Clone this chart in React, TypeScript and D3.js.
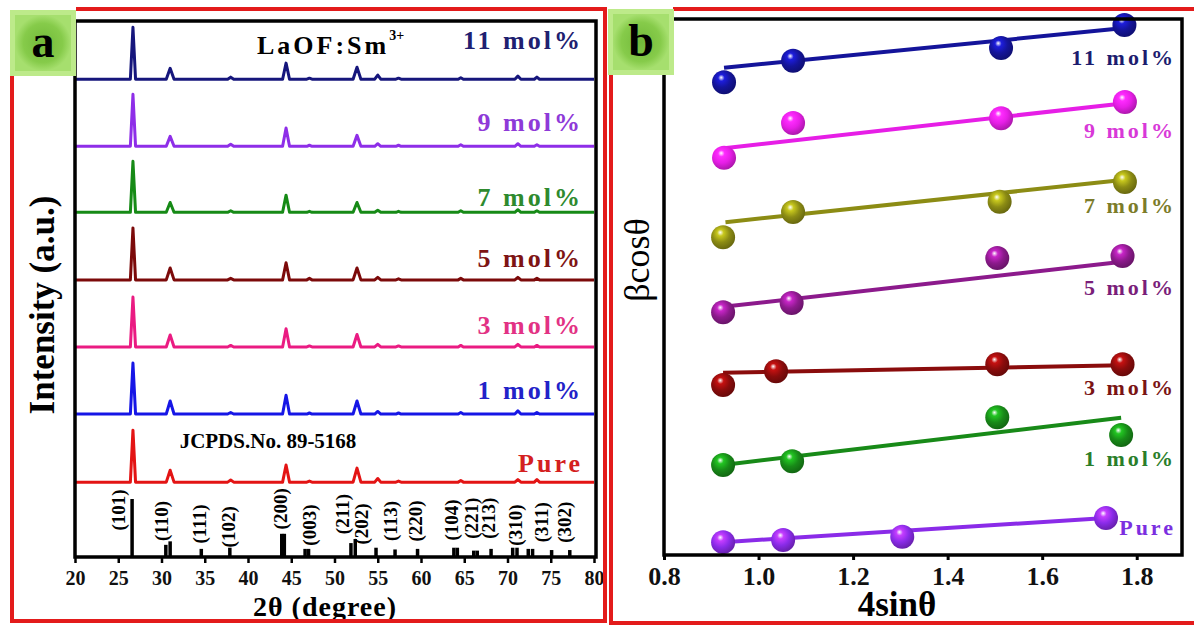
import React, { useEffect, useRef } from "react";
import * as d3 from "d3";

// ---------- panel a : stacked XRD patterns ----------
const sampleNames = ["Pure", "1 mol%", "3 mol%", "5 mol%", "7 mol%", "9 mol%", "11 mol%"];
const traceColors = ["#e31414", "#1616e6", "#ea1b82", "#7c0a0a", "#168a16", "#8e2ee8", "#16167c"];
const labelColorsA = ["#d42020", "#2222c8", "#e23284", "#7e1414", "#2e8a2e", "#8e3ad8", "#202070"];
const traceOffsets = [144, 275, 404, 533, 663, 790, 919];
const labelLevelsA = [181, 321, 446, 575, 692, 837, 994];

const peakPos = [26.7, 31.0, 38.0, 44.4, 47.1, 52.6, 55.0, 57.4, 64.6, 71.2, 73.4];
const peakHalfWidth = [0.3, 0.45, 0.35, 0.4, 0.3, 0.45, 0.35, 0.3, 0.3, 0.35, 0.3];
const intPure = [100, 23, 4, 33, 2, 27, 7, 2, 3, 5, 5];
const int1 = [98, 25, 3, 36, 2, 25, 5, 2, 3, 6, 3];
const int3 = [96, 23, 3, 35, 2, 24, 5, 2, 3, 5, 3];
const int5 = [100, 23, 3, 33, 3, 23, 5, 2, 3, 5, 3];
const int7 = [98, 19, 3, 33, 2, 19, 4, 2, 3, 5, 3];
const int9 = [100, 19, 4, 35, 2, 21, 5, 2, 3, 5, 3];
const int11 = [100, 21, 4, 31, 2, 23, 8, 2, 3, 6, 4];
const intensities = [intPure, int1, int3, int5, int7, int9, int11];

// JCPDS 89-5168 reference lines
const jcpdsPos = [26.6, 30.5, 31.0, 34.6, 37.9, 43.9, 44.2, 46.6, 47.0, 51.9, 52.4, 54.8, 57.0, 59.6,
  63.8, 64.2, 66.1, 66.5, 68.1, 70.6, 71.1, 72.4, 72.9, 75.1, 77.2];
const jcpdsInt = [100, 21, 27, 14, 16, 40, 40, 14, 14, 24, 31, 16, 13, 14, 16, 16, 11, 11, 14, 16, 16,
  14, 14, 12, 12];
const hklLabels = ["(101)", "(110)", "(111)", "(102)", "(200)", "(003)", "(211)", "(202)", "(113)",
  "(220)", "(104)", "(221)", "(213)", "(310)", "(311)", "(302)"];
const hklPos = [24.96, 30.0, 34.4, 37.7, 43.7, 47.1, 50.9, 53.1, 56.4, 59.4, 63.5, 65.8, 67.8, 70.9, 73.9, 76.6];
const hklLevel = [81, 62, 57, 52, 83, 55, 74, 57, 62, 62, 64, 67, 67, 55, 60, 60];
const xTicksA = d3.range(20, 81, 5);

// ---------- panel b : Williamson-Hall plots ----------
const seriesNames = ["Pure", "1 mol%", "3 mol%", "5 mol%", "7 mol%", "9 mol%", "11 mol%"];
const ballColors = ["#8a2be8", "#188a18", "#8a0c0c", "#8c1a8c", "#8c8c14", "#e61ee6", "#14149a"];
const labelColorsB = ["#7b2fe0", "#2a7e2a", "#7a1414", "#7a1e7a", "#7c7c2a", "#d838d8", "#1c1c6e"];
const xPure = [0.925, 1.052, 1.304, 1.735];
const yPure = [0.24, 0.28, 0.34, 0.69];
const x1 = [0.925, 1.071, 1.505, 1.767];
const y1 = [1.68, 1.75, 2.57, 2.24];
const x3 = [0.925, 1.037, 1.505, 1.77];
const y3 = [3.17, 3.43, 3.56, 3.56];
const x5 = [0.925, 1.07, 1.505, 1.77];
const y5 = [4.53, 4.7, 5.54, 5.58];
const x7 = [0.925, 1.073, 1.51, 1.775];
const y7 = [5.93, 6.4, 6.59, 6.96];
const x9 = [0.927, 1.073, 1.513, 1.775];
const y9 = [7.41, 8.06, 8.15, 8.45];
const x11 = [0.927, 1.073, 1.513, 1.774];
const y11 = [8.82, 9.22, 9.46, 9.89];
const xsB = [xPure, x1, x3, x5, x7, x9, x11];
const ysB = [yPure, y1, y3, y5, y7, y9, y11];
// fitted lines: [x0, y0, x1, y1]
const fitsB = [
  [0.925, 0.24, 1.735, 0.69],
  [0.925, 1.68, 1.767, 2.56],
  [0.925, 3.4, 1.77, 3.54],
  [0.925, 4.63, 1.77, 5.47],
  [0.93, 6.21, 1.775, 7.0],
  [0.927, 7.59, 1.775, 8.43],
  [0.927, 9.09, 1.774, 9.83],
];
const labelLevelsB = [0.52, 1.81, 3.13, 5.0, 6.53, 7.93, 9.29];
const xTicksB = [0.8, 1.0, 1.2, 1.4, 1.6, 1.8];

const serif = "'Liberation Serif', 'Times New Roman', serif";
const red = "#e31b1b";

export default function App() {
  const ref = useRef<SVGSVGElement>(null);

  useEffect(() => {
    const svg = d3.select(ref.current);
    svg.selectAll("*").remove();
    const defs = svg.append("defs");

    // green label boxes gradient
    const gg = defs.append("radialGradient").attr("id", "greenIn");
    gg.append("stop").attr("offset", "0%").attr("stop-color", "#72b93a");
    gg.append("stop").attr("offset", "70%").attr("stop-color", "#86cb4a");
    gg.append("stop").attr("offset", "100%").attr("stop-color", "#a6df6e");

    ballColors.forEach((c, i) => {
      const g = defs.append("radialGradient").attr("id", `ball${i}`)
        .attr("cx", "42%").attr("cy", "38%").attr("r", "62%").attr("fx", "38%").attr("fy", "30%");
      g.append("stop").attr("offset", "0%").attr("stop-color", "#ffffff");
      g.append("stop").attr("offset", "22%").attr("stop-color", d3.color(c)!.brighter(1).formatHex());
      g.append("stop").attr("offset", "60%").attr("stop-color", c);
      g.append("stop").attr("offset", "100%").attr("stop-color", d3.color(c)!.darker(0.8).formatHex());
    });

    // ================= panel a =================
    const xa = d3.scaleLinear().domain([20, 80]).range([75, 594]);
    const ya = d3.scaleLinear().domain([0, 1031]).range([557, 21]);
    const yj = d3.scaleLinear().domain([0, 100]).range([557, 499]);
    const a = svg.append("g");

    intensities.forEach((ints, i) => {
      const pts: [number, number][] = [[20, 0]];
      peakPos.forEach((p, k) => {
        const w = peakHalfWidth[k];
        pts.push([p - w, 0], [p, ints[k]], [p + w, 0]);
      });
      pts.push([80, 0]);
      const line = d3.line<[number, number]>()
        .x((d) => xa(d[0]))
        .y((d) => ya(d[1] + traceOffsets[i]));
      a.append("path").attr("d", line(pts)!).attr("fill", "none")
        .attr("stroke", traceColors[i]).attr("stroke-width", 3).attr("stroke-linejoin", "round");
      a.append("text").attr("x", 583).attr("y", ya(labelLevelsA[i]))
        .attr("dy", "0.35em").attr("text-anchor", "end")
        .style("font-family", serif).style("font-weight", "bold").style("font-size", "26px")
        .style("letter-spacing", "3px").attr("fill", labelColorsA[i])
        .text(sampleNames[i]);
    });

    jcpdsPos.forEach((p, k) => {
      a.append("line").attr("x1", xa(p)).attr("x2", xa(p))
        .attr("y1", yj(0)).attr("y2", yj(jcpdsInt[k]))
        .attr("stroke", "#000").attr("stroke-width", 3.5);
    });
    hklLabels.forEach((t, k) => {
      a.append("text")
        .attr("transform", `translate(${xa(hklPos[k])},${yj(hklLevel[k])}) rotate(-90)`)
        .attr("text-anchor", "middle").attr("dy", "0.35em")
        .style("font-family", serif).style("font-weight", "bold").style("font-size", "19px")
        .text(t);
    });

    a.append("text").attr("x", 268).attr("y", 441).attr("dy", "0.35em").attr("text-anchor", "middle")
      .style("font-family", serif).style("font-weight", "bold").style("font-size", "21px")
      .text("JCPDS.No. 89-5168");
    const t = a.append("text").attr("x", 257).attr("y", 54)
      .style("font-family", serif).style("font-weight", "bold").style("font-size", "26px")
      .style("letter-spacing", "3px");
    t.append("tspan").text("LaOF:Sm");
    t.append("tspan").attr("dy", -14).style("font-size", "14px").style("letter-spacing", "0px").text("3+");

    const axA = d3.axisBottom(xa).tickValues(xTicksA).tickSize(6).tickSizeOuter(0).tickPadding(8);
    const gA = a.append("g").attr("transform", "translate(0,557)").call(axA);
    gA.select(".domain").remove();
    gA.selectAll(".tick line").attr("stroke-width", 2.5);
    gA.selectAll(".tick text").style("font-family", serif).style("font-weight", "bold")
      .style("font-size", "20px").attr("fill", "#111");

    a.append("rect").attr("x", 75).attr("y", 21).attr("width", 521).attr("height", 536)
      .attr("fill", "none").attr("stroke", "#000").attr("stroke-width", 3.5);

    a.append("text").attr("transform", "translate(42,305) rotate(-90)").attr("text-anchor", "middle")
      .attr("dy", "0.35em").style("font-family", serif).style("font-weight", "bold")
      .style("font-size", "35px").text("Intensity (a.u.)");
    a.append("text").attr("x", 325).attr("y", 616).attr("text-anchor", "middle")
      .style("font-family", serif).style("font-weight", "bold").style("font-size", "28px")
      .style("letter-spacing", "1px").text("2θ (degree)");

    // ================= panel b =================
    const xb = d3.scaleLinear().domain([0.8, 1.9]).range([664, 1184]);
    const yb = d3.scaleLinear().domain([0, 10]).range([555, 19]);
    const b = svg.append("g");

    fitsB.forEach((f, i) => {
      b.append("line").attr("x1", xb(f[0])).attr("y1", yb(f[1])).attr("x2", xb(f[2])).attr("y2", yb(f[3]))
        .attr("stroke", ballColors[i]).attr("stroke-width", 4);
    });
    xsB.forEach((xs, i) => {
      b.selectAll(null).data(xs).enter().append("circle")
        .attr("cx", (d) => xb(d)).attr("cy", (_d, k) => yb(ysB[i][k])).attr("r", 12)
        .attr("fill", `url(#ball${i})`);
      b.append("text").attr("x", 1176).attr("y", yb(labelLevelsB[i])).attr("dy", "0.35em")
        .attr("text-anchor", "end").style("font-family", serif).style("font-weight", "bold")
        .style("font-size", "22px").style("letter-spacing", "3px").attr("fill", labelColorsB[i])
        .text(seriesNames[i]);
    });

    const axB = d3.axisBottom(xb).tickValues(xTicksB).tickSize(5).tickSizeOuter(0).tickPadding(7)
      .tickFormat(d3.format(".1f"));
    const gB = b.append("g").attr("transform", "translate(0,555)").call(axB);
    gB.select(".domain").remove();
    gB.selectAll(".tick line").attr("stroke-width", 3);
    gB.selectAll(".tick text").style("font-family", serif).style("font-weight", "bold")
      .style("font-size", "26px").attr("fill", "#111");

    b.append("rect").attr("x", 664).attr("y", 19).attr("width", 518).attr("height", 536)
      .attr("fill", "none").attr("stroke", "#000").attr("stroke-width", 3.5);

    b.append("text").attr("transform", "translate(636,260) rotate(-90)").attr("text-anchor", "middle")
      .attr("dy", "0.35em").style("font-family", serif).style("font-size", "36px").text("βcosθ");
    b.append("text").attr("x", 897).attr("y", 616).attr("text-anchor", "middle")
      .style("font-family", serif).style("font-weight", "bold").style("font-size", "35px")
      .text("4sinθ");

    // ================= red frames & label boxes =================
    const fr = svg.append("g").attr("stroke", red).attr("stroke-width", 4).attr("fill", "none");
    fr.append("path").attr("d", "M12,75 V621 H605 V9 H76");
    fr.append("path").attr("d", "M611,75 V623 H1194 M673,9 H1194");

    [[10, 10, "a"], [608, 9, "b"]].forEach(([x, y, s]) => {
      const g = svg.append("g").attr("transform", `translate(${x},${y})`);
      g.append("rect").attr("width", 66).attr("height", 66).attr("fill", "#bdea8a");
      g.append("rect").attr("x", 5).attr("y", 5).attr("width", 56).attr("height", 56).attr("fill", "url(#greenIn)");
      g.append("text").attr("x", 33).attr("y", 47).attr("text-anchor", "middle")
        .style("font-family", serif).style("font-weight", "bold").style("font-size", "46px")
        .text(s as string);
    });
  }, []);

  return (
    <svg
      ref={ref}
      width={1194}
      height={626}
      style={{ position: "absolute", left: 0, top: 0, background: "#fff" }}
    />
  );
}
